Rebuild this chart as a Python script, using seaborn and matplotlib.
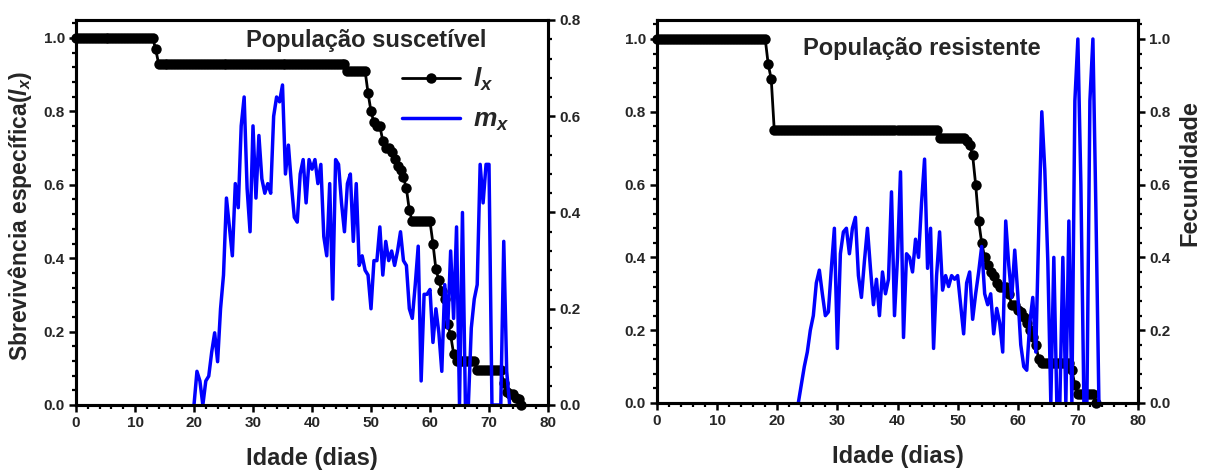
import numpy as np
import pandas as pd
import matplotlib
matplotlib.use("Agg")
import matplotlib.pyplot as plt
import seaborn as sns
from matplotlib.ticker import MultipleLocator, FormatStrFormatter
from matplotlib.lines import Line2D

# ---------------- data ----------------
# survival (l_x), one reading every half day from day 0
lx_suscetivel = (
    [1.0] * 27 + [0.97] + [0.93] * 64 + [0.91] * 7 +
    [0.85, 0.80, 0.77, 0.76, 0.76, 0.72, 0.70, 0.70, 0.69, 0.67, 0.65, 0.64,
     0.62, 0.59, 0.53, 0.50] +
    [0.50] * 6 +
    [0.44, 0.37, 0.34, 0.31, 0.29, 0.22, 0.19, 0.14, 0.12] +
    [0.12] * 6 + [0.095] * 9 +
    [0.06, 0.035, 0.03, 0.03, 0.02, 0.015, 0.0]
)
lx_resistente = (
    [1.0] * 37 + [0.93, 0.89] + [0.75] * 55 + [0.727] * 9 +
    [0.72, 0.71, 0.68, 0.60, 0.50, 0.44, 0.40, 0.38, 0.36, 0.35, 0.33] +
    [0.32] * 3 +
    [0.30, 0.27, 0.27, 0.255, 0.25, 0.235, 0.22, 0.20, 0.18, 0.16, 0.12] +
    [0.11] * 10 + [0.09, 0.05] + [0.025] * 6 + [0.0]
)

# fecundity (m_x), one reading every half day
mx_suscetivel_inicio = 20.0
mx_suscetivel = [
    0.00, 0.07, 0.05, 0.00, 0.05, 0.06, 0.11, 0.15, 0.09, 0.20,
    0.27, 0.43, 0.37, 0.31, 0.46, 0.41, 0.58, 0.64, 0.45, 0.36,
    0.58, 0.43, 0.56, 0.47, 0.44, 0.46, 0.44, 0.60, 0.64, 0.63,
    0.665, 0.48, 0.54, 0.46, 0.39, 0.38, 0.48, 0.51, 0.42, 0.51,
    0.49, 0.51, 0.46, 0.50, 0.35, 0.31, 0.46, 0.22, 0.51, 0.50,
    0.42, 0.36, 0.46, 0.48, 0.34, 0.46, 0.29, 0.31, 0.28, 0.27,
    0.20, 0.30, 0.30, 0.37, 0.27, 0.34, 0.30, 0.32, 0.29, 0.32,
    0.36, 0.30, 0.29, 0.20, 0.18, 0.25, 0.33, 0.05, 0.23, 0.23,
    0.24, 0.13, 0.20, 0.15, 0.07, 0.25, 0.16, 0.32, 0.18, 0.37,
    0.00, 0.40, 0.00, 0.00, 0.16, 0.22, 0.25, 0.50, 0.42, 0.50,
    0.50, 0.00, 0.00, 0.00, 0.00, 0.34, 0.07, 0.00,
]
mx_resistente_inicio = 23.5
mx_resistente = [
    0.00, 0.05, 0.10, 0.14, 0.20, 0.24, 0.33, 0.365, 0.30, 0.24,
    0.25, 0.37, 0.48, 0.15, 0.41, 0.47, 0.48, 0.41, 0.48, 0.51,
    0.35, 0.29, 0.39, 0.48, 0.37, 0.27, 0.34, 0.24, 0.36, 0.30,
    0.34, 0.58, 0.24, 0.40, 0.635, 0.18, 0.41, 0.40, 0.36, 0.45,
    0.40, 0.55, 0.67, 0.37, 0.48, 0.15, 0.35, 0.47, 0.31, 0.35,
    0.32, 0.35, 0.34, 0.35, 0.27, 0.19, 0.33, 0.36, 0.23, 0.30,
    0.36, 0.43, 0.30, 0.27, 0.30, 0.19, 0.26, 0.22, 0.14, 0.50,
    0.38, 0.29, 0.42, 0.30, 0.16, 0.10, 0.09, 0.22, 0.29, 0.14,
    0.48, 0.80, 0.64, 0.39, 0.00, 0.40, 0.00, 0.00, 0.40, 0.00,
    0.50, 0.00, 0.83, 1.00, 0.60, 0.00, 0.00, 0.83, 1.00, 0.53,
    0.00,
]

titulos = ["População suscetível", "População resistente"]
xlabel = "Idade (dias)"
ylabel_esq = "Sbrevivência específica($l_x$)"
ylabel_dir = "Fecundidade"


def serie(valores, inicio=0.0, passo=0.5):
    return pd.DataFrame({"idade": inicio + passo * np.arange(len(valores)),
                         "valor": valores})


# ---------------- style ----------------
sns.set_style("ticks")
plt.rcParams["font.family"] = ["Liberation Sans", "DejaVu Sans"]
plt.rcParams["font.weight"] = "bold"
plt.rcParams["mathtext.fontset"] = "custom"
plt.rcParams["mathtext.it"] = "Liberation Sans:italic:bold"
plt.rcParams["mathtext.rm"] = "Liberation Sans:bold"
plt.rcParams["mathtext.bf"] = "Liberation Sans:bold"

W, H = 1208, 472
fig = plt.figure(figsize=(W / 100, H / 100), dpi=100)
fig.patch.set_facecolor("white")

ax1 = fig.add_axes([76 / W, (H - 405) / H, (548 - 76) / W, (405 - 20) / H])
ax3 = fig.add_axes([657 / W, (H - 403) / H, (1138 - 657) / W, (403 - 20) / H])

LX_KW = dict(color="black", lw=2, marker="o", markersize=7.5,
             markeredgewidth=0, clip_on=False, estimator=None, legend=False)
MX_KW = dict(color="#0000ff", lw=2.5, estimator=None, legend=False)


def estilo(ax):
    for s in ax.spines.values():
        s.set_linewidth(2.2)
        s.set_color("black")
    ax.tick_params(axis="both", which="major", direction="out", length=5,
                   width=1.8, labelsize=11, color="black", pad=3)
    ax.tick_params(axis="both", which="minor", direction="out", length=3,
                   width=1.6, color="black")
    for lab in ax.get_xticklabels() + ax.get_yticklabels():
        lab.set_fontweight("bold")


def painel(ax, lx, mx, mx_inicio, titulo, tx, ty):
    d_lx = serie(lx)
    d_mx = serie(mx, mx_inicio)
    sns.lineplot(data=d_lx, x="idade", y="valor", ax=ax, **LX_KW)
    ax.set_xlim(0, 80)
    ax.xaxis.set_major_locator(MultipleLocator(10))
    ax.xaxis.set_minor_locator(MultipleLocator(2))
    ax.yaxis.set_major_locator(MultipleLocator(0.2))
    ax.yaxis.set_minor_locator(MultipleLocator(0.04))
    ax.yaxis.set_major_formatter(FormatStrFormatter("%.1f"))
    ax.set_xlabel(xlabel, fontsize=17, fontweight="bold", labelpad=12)
    ax.set_ylabel("")
    ax.tick_params(axis="y", right=False)

    tw = ax.twinx()
    sns.lineplot(data=d_mx, x="idade", y="valor", ax=tw, **MX_KW)
    tw.set_ylabel("")
    tw.yaxis.set_major_locator(MultipleLocator(0.2))
    tw.yaxis.set_minor_locator(MultipleLocator(0.04))
    tw.yaxis.set_major_formatter(FormatStrFormatter("%.1f"))
    ax.text(tx, ty, titulo, transform=ax.transAxes, ha="center",
            va="baseline", fontsize=17, fontweight="bold")
    estilo(ax)
    estilo(tw)
    tw.tick_params(axis="x", which="both", bottom=False, top=False)
    return tw


tw1 = painel(ax1, lx_suscetivel, mx_suscetivel, mx_suscetivel_inicio,
             titulos[0], 0.614, 0.93)
ax1.set_ylim(0, 385 / 367)
tw1.set_ylim(0, 0.8)
ax1.set_ylabel(ylabel_esq, fontsize=16.5, fontweight="bold")
ax1.yaxis.set_label_coords(-0.088, 0.49)

tw3 = painel(ax3, lx_resistente, mx_resistente, mx_resistente_inicio,
             titulos[1], 0.55, 0.909)
ax3.set_ylim(0, 383 / 364)
tw3.set_ylim(0, 383 / 364)
tw3.set_ylabel(ylabel_dir, fontsize=17, fontweight="bold", rotation=90)
tw3.yaxis.set_label_coords(1.084, 0.6)

handles = [
    Line2D([], [], color="black", lw=2, marker="o", markersize=7.5,
           markeredgewidth=0),
    Line2D([], [], color="#0000ff", lw=2.5),
]
tw1.legend(handles, ["$l_x$", "$m_x$"], loc="upper left",
           bbox_to_anchor=(0.69, 0.88), frameon=False, fontsize=19,
           handlelength=2.2, handletextpad=0.5, labelspacing=0.55,
           borderpad=0, borderaxespad=0)

fig.savefig("out.png", dpi=100, facecolor="white")
